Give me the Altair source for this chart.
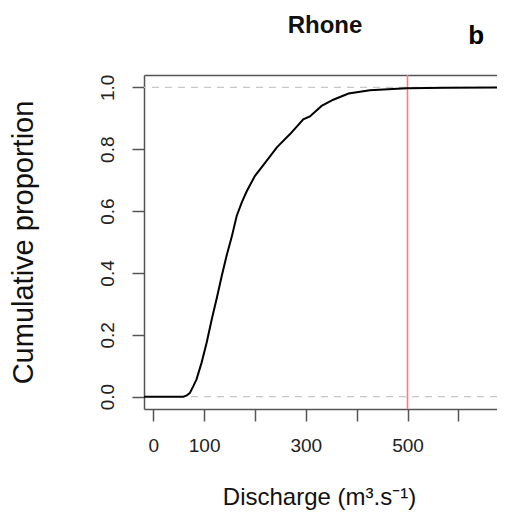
import altair as alt
import pandas as pd

# ECDF of Rhone discharge
discharge = [-30, 59, 66, 72, 78.7, 85, 95, 105, 115, 125, 134.6, 144, 154, 164, 174,
             184, 200, 216, 243, 269, 295, 308, 331, 354, 384, 426, 498, 577, 720]
cum_prop = [0, 0, 0.004, 0.012, 0.034, 0.056, 0.11, 0.175, 0.25, 0.32, 0.39, 0.455, 0.515,
            0.584, 0.628, 0.665, 0.714, 0.748, 0.806, 0.849, 0.897, 0.906, 0.94, 0.96,
            0.98, 0.991, 0.997, 0.999, 1.0]
ref_levels = [0, 1]
threshold = [500]
x_ticks = [0, 100, 200, 300, 400, 500, 600]
y_ticks = [0, 0.2, 0.4, 0.6, 0.8, 1.0]

FONT = "Liberation Sans"
W, H = 353, 334
xscale = alt.Scale(domain=[-18.3, 676], nice=False, zero=False)
yscale = alt.Scale(domain=[-0.04, 1.04], nice=False, zero=False)

curve_df = pd.DataFrame({"q": discharge, "F": cum_prop})
h_df = pd.DataFrame({"F": ref_levels})
v_df = pd.DataFrame({"q": threshold})

axis_bottom = alt.Axis(
    orient="bottom", values=x_ticks,
    labelExpr="(datum.value == 200 || datum.value == 400 || datum.value == 600) ? '' : datum.label",
    tickSize=12, tickColor="#555", tickWidth=1.5, domainColor="#555", domainWidth=1.5,
    labelFont=FONT, labelFontSize=19, labelColor="#222", labelPadding=15,
    labelFlush=False, labelOverlap=False, grid=False,
    title="Discharge (m³.s⁻¹)", titleFont=FONT, titleFontSize=24, titleFontWeight="normal",
    titleColor="#111", titleX=175, titleY=95, titleBaseline="alphabetic", titleAlign="center",
)
axis_left = alt.Axis(
    orient="left", values=y_ticks, format=".1f",
    tickSize=12, tickColor="#555", tickWidth=1.5, domainColor="#555", domainWidth=1.5,
    labelFont=FONT, labelFontSize=19, labelColor="#222", labelPadding=19,
    labelAngle=270, labelAlign="center", labelBaseline="alphabetic",
    labelFlush=False, labelOverlap=False, grid=False,
    title="Cumulative proportion", titleFont=FONT, titleFontSize=29, titleFontWeight="normal",
    titleColor="#111", titleAngle=270, titleX=-112, titleY=167,
    titleBaseline="alphabetic", titleAlign="center",
)
axis_top = alt.Axis(orient="top", labels=False, ticks=False, domain=True,
                    domainColor="#555", domainWidth=1.5, grid=False, title=None)

hlines = alt.Chart(h_df).mark_rule(color="#c8c8c8", strokeDash=[7, 6], strokeWidth=1.3).encode(
    y=alt.Y("F:Q", scale=yscale, axis=axis_left)
)
vline = alt.Chart(v_df).mark_rule(color="#ff7b7b", strokeWidth=1.6).encode(
    x=alt.X("q:Q", scale=xscale, axis=axis_top)
)
curve = alt.Chart(curve_df).mark_line(color="black", strokeWidth=2, clip=True).encode(
    x=alt.X("q:Q", scale=xscale, axis=axis_bottom),
    y=alt.Y("F:Q", scale=yscale, axis=axis_left),
)
title_txt = alt.Chart(pd.DataFrame({"t": ["Rhone"]})).mark_text(
    font=FONT, fontSize=24, fontWeight="bold", color="#111", align="center", baseline="alphabetic"
).encode(
    text="t:N",
    x=alt.XDatum(337.8, axis=None),
    y=alt.YDatum(1.176),
)
panel = alt.Chart(pd.DataFrame({"t": ["b"]})).mark_text(
    font=FONT, fontSize=26, fontWeight="bold", color="#000", align="center", baseline="alphabetic"
).encode(
    text="t:N",
    x=alt.XDatum(635, axis=None),
    y=alt.YDatum(1.14),
)

chart = alt.layer(hlines, vline, curve, title_txt, panel).resolve_axis(x="independent").properties(
    width=W, height=H,
    autosize=alt.AutoSizeParams(type="none"),
    padding={"left": 136, "top": 67, "right": 0, "bottom": 101},
).configure_view(stroke=None)

chart.save("out.html", embed_options={"renderer": "svg", "actions": False})
